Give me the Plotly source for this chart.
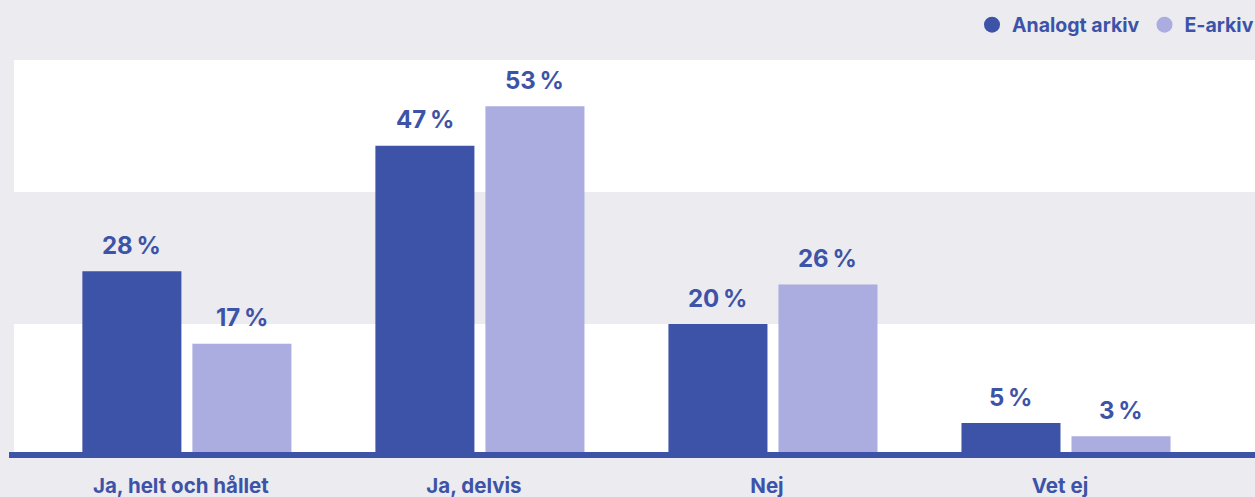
import plotly.graph_objects as go

categories = ["Ja, helt och hållet", "Ja, delvis", "Nej", "Vet ej"]
series_names = ["Analogt arkiv", "E-arkiv"]
analogt = [28, 47, 20, 5]
earkiv = [17, 53, 26, 3]

DARK = "#3d53a7"
LIGHT = "#abacdf"
BG = "#ebebf0"
FONT = "Inter"

fig = go.Figure()
for name, vals, col in [(series_names[0], analogt, DARK), (series_names[1], earkiv, LIGHT)]:
    fig.add_trace(go.Bar(x=categories, y=vals, name=name, marker=dict(color=col, line=dict(width=0)),
                         showlegend=False, hoverinfo="skip"))
# legend entries with circle symbols
for name, col in [(series_names[0], DARK), (series_names[1], LIGHT)]:
    fig.add_trace(go.Scatter(x=[None], y=[None], mode="markers", name=name,
                             marker=dict(color=col, size=17, symbol="circle")))

annotations = []
for vals, shift in [(analogt, -55), (earkiv, 55)]:
    for c, v in zip(categories, vals):
        annotations.append(dict(x=c, y=v, text=f"{v}\u2009%", showarrow=False, xref="x", yref="y",
                                xshift=shift, yshift=26, yanchor="middle",
                                font=dict(family=FONT, size=24, color=DARK, weight=700)))

shapes = [
    dict(type="rect", xref="paper", yref="y", x0=0, x1=1, y0=20, y1=40, fillcolor=BG,
         line=dict(width=0), layer="below"),
    dict(type="line", xref="paper", yref="paper", x0=-5 / 1241, x1=1, y0=1 / 396, y1=1 / 396,
         line=dict(color=DARK, width=6), layer="above"),
]

fig.update_layout(
    width=1255, height=497,
    margin=dict(l=14, r=0, t=60, b=41, autoexpand=False),
    paper_bgcolor=BG, plot_bgcolor="white",
    barmode="group", bargap=0.249, bargroupgap=0.1,
    annotations=annotations, shapes=shapes,
    showlegend=True,
    legend=dict(orientation="h", x=(972 - 14) / 1241, xanchor="left", y=1 + 35 / 396, yanchor="middle",
                font=dict(family=FONT, size=19.5, color=DARK, weight=700), bgcolor="rgba(0,0,0,0)",
                itemwidth=30, tracegroupgap=0),
    xaxis=dict(range=[-0.59, 3.645], showgrid=False, zeroline=False, showline=False, automargin=False,
               ticks="outside", ticklen=11, tickcolor="rgba(0,0,0,0)", ticklabelshift=-6,
               tickfont=dict(family=FONT, size=20.5, color=DARK, weight=700), fixedrange=True),
    yaxis=dict(range=[0, 60], showgrid=False, zeroline=False, showticklabels=False, fixedrange=True,
               automargin=False),
)

fig.write_html("out.html", config={"displayModeBar": False},
               post_script="document.body.style.margin='0px';document.body.style.background='#ebebf0';")
